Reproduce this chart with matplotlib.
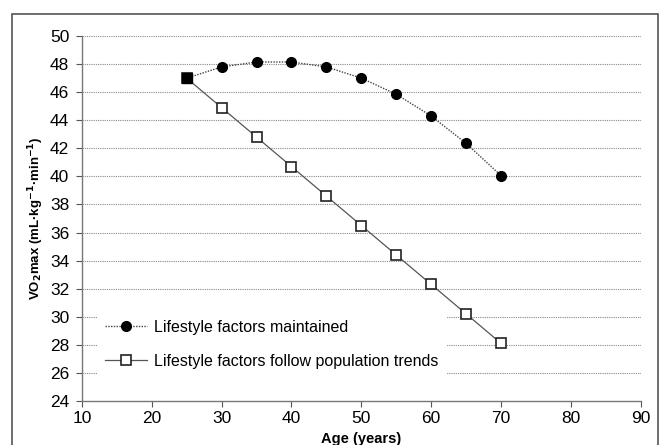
import matplotlib
matplotlib.use("Agg")
import matplotlib.pyplot as plt
from matplotlib.patches import Rectangle
from matplotlib.lines import Line2D

plt.rcParams['font.family'] = ['Liberation Sans', 'DejaVu Sans']

ages = [25, 30, 35, 40, 45, 50, 55, 60, 65, 70]
maintained = [47.0, 47.8, 48.15, 48.15, 47.8, 47.0, 45.85, 44.3, 42.35, 40.05]
population = [47.0, 44.9, 42.8, 40.7, 38.6, 36.5, 34.4, 32.3, 30.2, 28.1]
labels = ["Lifestyle factors maintained", "Lifestyle factors follow population trends"]
xticks = [10, 20, 30, 40, 50, 60, 70, 80, 90]
yticks = list(range(24, 51, 2))

fig = plt.figure(figsize=(6.6, 4.45), dpi=100)
ax = fig.add_axes([0.124, 0.099, 0.847, 0.82])

# outer frame
fig.patches.append(Rectangle((12/660, -0.05), 646/660, 1 - 14/445 + 0.05,
                             transform=fig.transFigure, fill=False,
                             edgecolor='#555555', lw=1.2, zorder=0))

for y in yticks[1:]:
    ax.axhline(y, color='#888888', lw=0.8, ls=(0, (1, 1)), zorder=1)

ax.plot(ages, population, color='#555555', lw=0.9, ls='-', marker='s', ms=6.5,
        mfc='white', mec='#222222', mew=1.2, zorder=3)
ax.plot(ages, maintained, color='#444444', lw=1.0, ls=(0, (1, 1)), marker='o', ms=7,
        mfc='black', mec='black', zorder=4)
ax.plot(ages[:1], population[:1], ls='none', marker='s', ms=7, mfc='black', mec='black', zorder=5)

h1 = Line2D([], [], color='#444444', lw=1.0, ls=(0, (1, 1)), marker='o', ms=7, mfc='black', mec='black')
h2 = Line2D([], [], color='#555555', lw=0.9, ls='-', marker='s', ms=6.5, mfc='white', mec='#222222', mew=1.2)
leg = ax.legend([h1, h2], labels, loc='lower left', bbox_to_anchor=(0.029, 0.068),
                frameon=True, fancybox=False, framealpha=1, edgecolor='white',
                fontsize=11.5, handlelength=2.6, labelspacing=1.2, borderpad=0.45,
                handletextpad=0.45, borderaxespad=0)
leg.set_zorder(6)

ax.set_xlim(10, 90)
ax.set_ylim(24, 50)
ax.set_xticks(xticks)
ax.set_yticks(yticks)
ax.tick_params(axis='both', labelsize=12.5, direction='out', length=4, color='#555555')
ax.tick_params(axis='y', pad=5)
for s in ['top', 'right']:
    ax.spines[s].set_visible(False)
for s in ['left', 'bottom']:
    ax.spines[s].set_color('#777777')
    ax.spines[s].set_linewidth(1.0)

ax.set_ylabel(r'VO$_\mathbf{2}$max (mL·kg$^{\mathbf{-1}}$·min$^{\mathbf{-1}}$)', fontsize=9.5,
              fontweight='bold', labelpad=3)
ax.set_xlabel('Age (years)', fontsize=10.5, fontweight='bold', labelpad=4)

fig.savefig('out.png', dpi=100)
